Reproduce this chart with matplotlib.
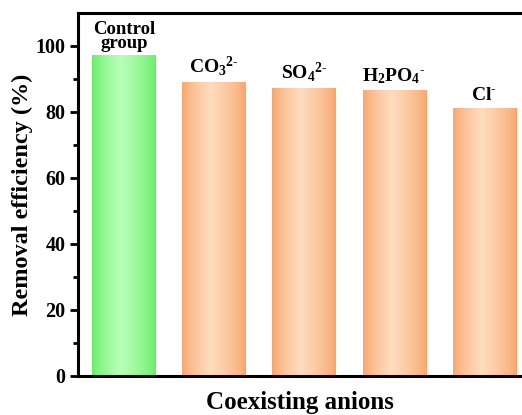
import numpy as np
import matplotlib
matplotlib.use('Agg')
import matplotlib.pyplot as plt
from matplotlib.colors import LinearSegmentedColormap

plt.rcParams['font.family'] = 'Liberation Serif'
plt.rcParams['font.weight'] = 'bold'
plt.rcParams['mathtext.fontset'] = 'custom'
plt.rcParams['mathtext.rm'] = 'Liberation Serif:bold'
plt.rcParams['mathtext.it'] = 'Liberation Serif:bold'
plt.rcParams['mathtext.bf'] = 'Liberation Serif:bold'

# data
groups = ['Control\ngroup', r'$\mathrm{CO_3{}^{2\text{-}}}$', r'$\mathrm{SO_4{}^{2\text{-}}}$',
          r'$\mathrm{H_2PO_4{}^{\text{-}}}$', r'$\mathrm{Cl^{\text{-}}}$']
removal = [97.2, 89.1, 87.1, 86.6, 81.0]
is_control = [True, False, False, False, False]

green_cmap = LinearSegmentedColormap.from_list('g', ['#64ee64', '#b8ffb8'])
orange_cmap = LinearSegmentedColormap.from_list('o', ['#f8a468', '#fedcbf'])

fig = plt.figure(figsize=(5.22, 4.15), dpi=100)
ax = fig.add_axes([0.1494, 0.0947, 0.8506, 0.874])

x = np.arange(len(removal))
bars = ax.bar(x, removal, width=0.7, color='none', edgecolor='none', zorder=2)

# horizontal shading: dark at both edges, light band a bit left of centre
t = np.linspace(0, 1, 200)
c = 0.45
profile = np.where(t < c, t / c, (1 - t) / (1 - c)) ** 0.7
for b, ctrl in zip(bars, is_control):
    x0, w, h = b.get_x(), b.get_width(), b.get_height()
    ax.imshow(profile[np.newaxis, :], cmap=green_cmap if ctrl else orange_cmap,
              vmin=0, vmax=1, aspect='auto', extent=[x0, x0 + w, 0, h],
              zorder=2, interpolation='bilinear')

for xi, v, lab in zip(x, removal, groups):
    if '\n' in lab:
        ax.annotate(lab, (xi, v), xytext=(0, 2), textcoords='offset points',
                    ha='center', va='bottom', fontsize=13.5, fontweight='bold',
                    linespacing=0.8)
    else:
        ax.annotate(lab, (xi, v), xytext=(0, 3), textcoords='offset points',
                    ha='center', va='bottom', fontsize=14, fontweight='bold')

ax.set_xlim(-0.511, 4.422)
ax.set_ylim(0, 110)
ax.set_yticks([0, 20, 40, 60, 80, 100])
ax.set_yticks(np.arange(10, 110, 20), minor=True)
ax.set_xticks([])
ax.tick_params(axis='y', which='major', direction='out', length=6, width=2,
               labelsize=14.5, pad=3)
ax.tick_params(axis='y', which='minor', direction='out', length=3.5, width=2)
for lbl in ax.get_yticklabels():
    lbl.set_fontweight('bold')

for s in ['left', 'bottom', 'top']:
    ax.spines[s].set_linewidth(2.2)
ax.spines['right'].set_visible(False)

ax.set_ylabel('Removal efficiency (%)', fontsize=17.5, fontweight='bold', labelpad=2)
ax.set_xlabel('Coexisting anions', fontsize=18, fontweight='bold', labelpad=11)

fig.savefig('out.png', dpi=100)
